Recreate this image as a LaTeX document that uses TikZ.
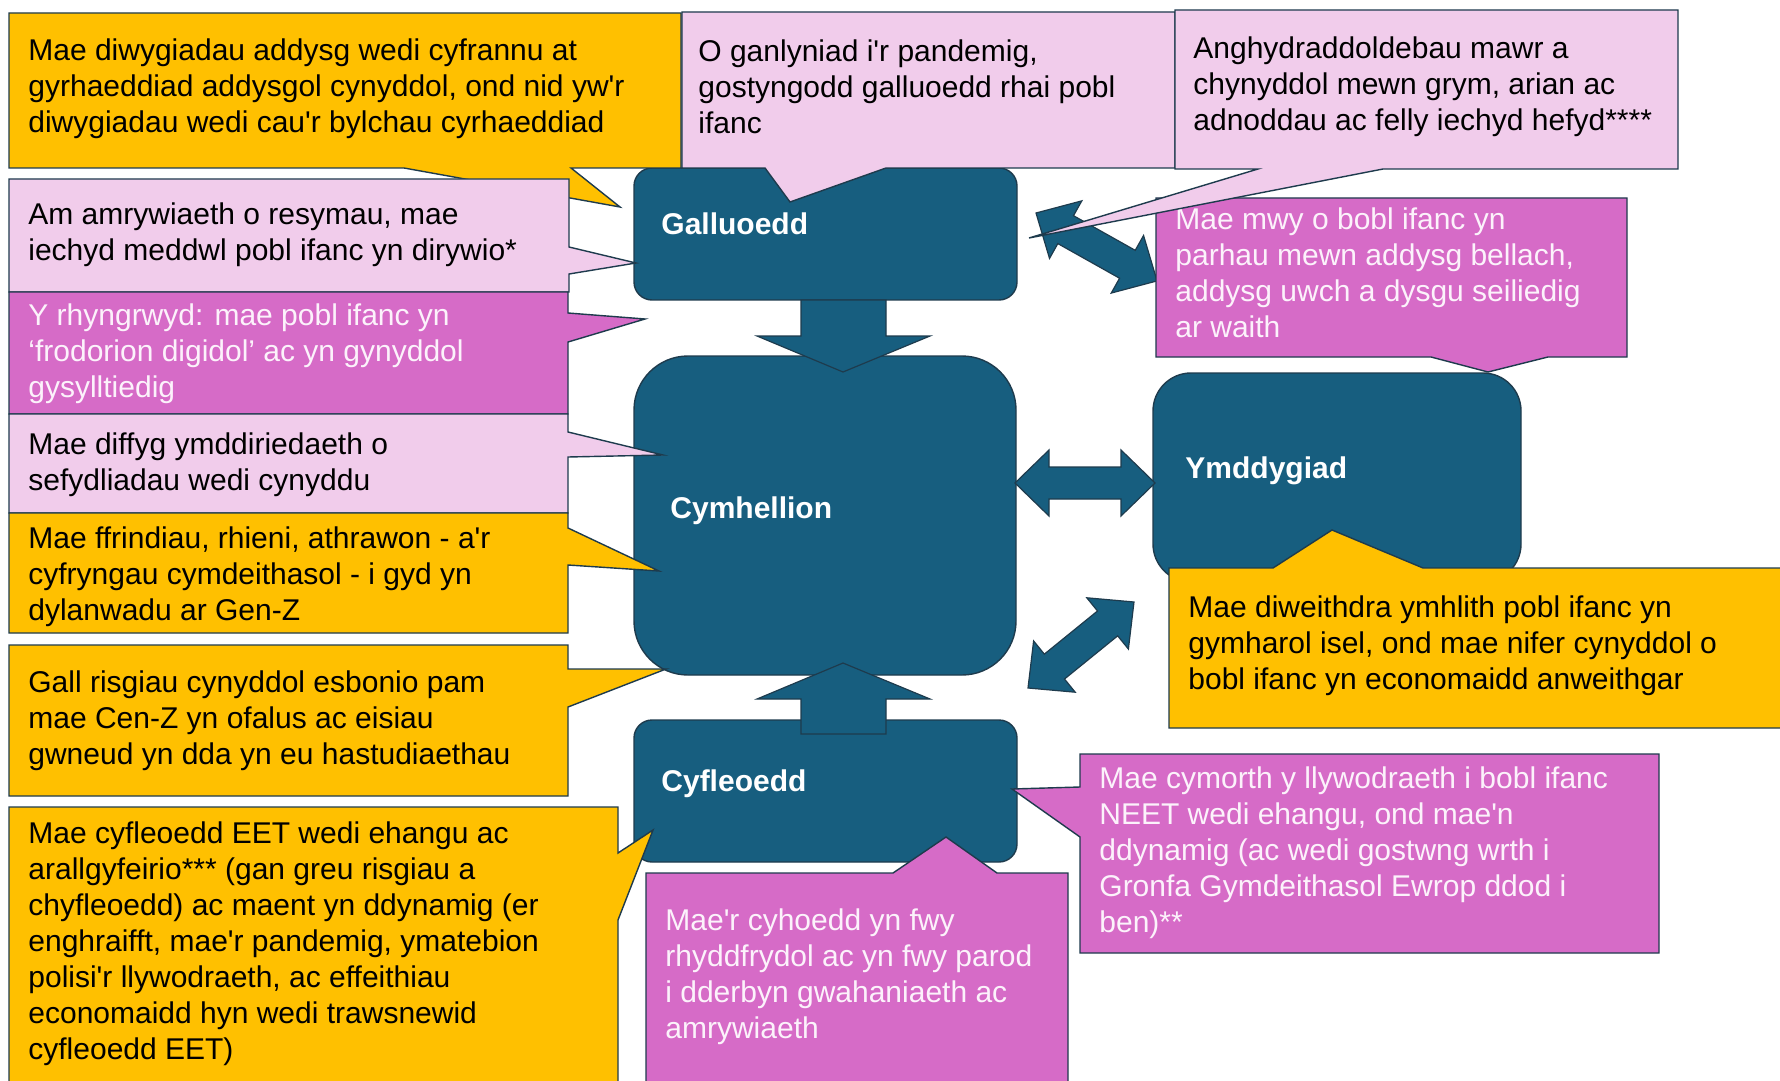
\documentclass[tikz,border=0pt]{standalone}
\usepackage{fontspec}
\setmainfont{Liberation Sans}[Ligatures=TeXOff]
\definecolor{yelC}{HTML}{FFC000}
\definecolor{lpinkC}{HTML}{F1CCEB}
\definecolor{magC}{HTML}{D66BC7}
\definecolor{darkC}{HTML}{175E7F}
\definecolor{edgeC}{HTML}{1E3B4D}
\definecolor{wtxtC}{HTML}{FCF2FB}
\tikzset{
  callY/.style={fill=yelC, draw=edgeC, line width=0.7pt, line join=miter},
  callP/.style={fill=lpinkC, draw=edgeC, line width=0.7pt, line join=miter},
  callM/.style={fill=magC, draw=edgeC, line width=0.7pt, line join=miter},
  darkbox/.style={fill=darkC, draw=edgeC, line width=0.7pt, inner sep=0pt},
  blockarr/.style={fill=darkC, draw=edgeC, line width=0.6pt, line join=miter},
  body/.style={inner sep=0pt, anchor=base west, font=\fontsize{15pt}{18pt}\selectfont, text=black},
  bodyw/.style={body, text=wtxtC},
  lbl/.style={inner sep=0pt, anchor=base west, font=\fontsize{15pt}{18pt}\selectfont\bfseries, text=white},
}
\newcommand{\txtlines}[1]{\parbox[t]{420pt}{#1}}
\newcommand{\mkdblarrow}[4]{%
  \begin{scope}[shift={(#1,#2)},rotate=#3]
    \draw[blockarr] (0,0) -- (34,33) -- (34,16) -- ({#4-34},16) -- ({#4-34},33) -- (#4,0)
      -- ({#4-34},-33) -- ({#4-34},-16) -- (34,-16) -- (34,-33) -- cycle;
  \end{scope}}
\begin{document}
\begin{tikzpicture}[x=0.5pt,y=-0.5pt]
\fill[white] (0,0) rectangle (1780,1080);
\useasboundingbox (0,0) rectangle (1780,1080);

% ---- dark boxes
\node[darkbox, minimum width=191.5pt, minimum height=66pt, rounded corners=9pt] (gall) at (825.5,234) {};
\node[darkbox, minimum width=191pt, minimum height=159.5pt, rounded corners=27pt] (cymh) at (825,515.5) {};
\node[darkbox, minimum width=191.5pt, minimum height=71pt, rounded corners=9pt] (cyfl) at (825.5,791) {};
\node[darkbox, minimum width=184pt, minimum height=104.5pt, rounded corners=19pt] (ymdd) at (1337,477.5) {};

\node[lbl] (gallL) at (661,235) {Galluoedd};
\node[lbl] (cymhL) at (670,518) {Cymhellion};
\node[lbl] (cyflL) at (661,791) {Cyfleoedd};
\node[lbl] (ymddL) at (1185,478) {Ymddygiad};

% ---- block arrows
\draw[blockarr] (801,300) -- (886,300) -- (886,336) -- (930,336) -- (843,372) -- (757,336) -- (801,336) -- cycle;
\draw[blockarr] (843,663) -- (930,699) -- (886,699) -- (886,734) -- (801,734) -- (801,699) -- (757,699) -- cycle;
\mkdblarrow{1015}{483}{0}{140}
\mkdblarrow{1036}{213}{-29.3}{138.8}
\mkdblarrow{1028}{688}{39.06}{136.5}

% ---- callouts, left column
\draw[callY] (9,13) -- (681,13) -- (681,168) -- (571,168) -- (620,207) -- (404,168) -- (9,168) -- cycle;
\node[body] (tA) at (28,61) {\txtlines{Mae diwygiadau addysg wedi cyfrannu at\\gyrhaeddiad addysgol cynyddol, ond nid yw'r\\diwygiadau wedi cau'r bylchau cyrhaeddiad}};

\draw[callP] (9,179) -- (569,179) -- (569,247) -- (636,263) -- (569,274) -- (569,292) -- (9,292) -- cycle;
\node[body] (tB) at (28,225) {\txtlines{Am amrywiaeth o resymau, mae\\iechyd meddwl pobl ifanc yn dirywio*}};

\draw[callM] (9,292) -- (568,292) -- (568,313) -- (645,319) -- (568,342) -- (568,414) -- (9,414) -- cycle;
\node[bodyw] (tC) at (28,325) {\txtlines{Y rhyngrwyd: mae pobl ifanc yn\\‘frodorion digidol’ ac yn gynyddol\\gysylltiedig}};

\draw[callP] (9,414) -- (568,414) -- (568,432) -- (663,455) -- (568,457) -- (568,513) -- (9,513) -- cycle;
\node[body] (tD) at (28,454) {\txtlines{Mae diffyg ymddiriedaeth o\\sefydliadau wedi cynyddu}};

\draw[callY] (9,513) -- (568,513) -- (568,528) -- (659,571) -- (568,565) -- (568,633) -- (9,633) -- cycle;
\node[body] (tE) at (28,548) {\txtlines{Mae ffrindiau, rhieni, athrawon - a'r\\cyfryngau cymdeithasol - i gyd yn\\dylanwadu ar Gen-Z}};

\draw[callY] (9,645) -- (568,645) -- (568,669) -- (666,669) -- (568,707) -- (568,796) -- (9,796) -- cycle;
\node[body] (tF) at (28,692) {\txtlines{Gall risgiau cynyddol esbonio pam\\mae Cen-Z yn ofalus ac eisiau\\gwneud yn dda yn eu hastudiaethau}};

\draw[callY] (9,807) -- (618,807) -- (618,853) -- (653,830) -- (618,920) -- (618,1090) -- (9,1090) -- cycle;
\node[body] (tG) at (28,843) {\txtlines{Mae cyfleoedd EET wedi ehangu ac\\arallgyfeirio*** (gan greu risgiau a\\chyfleoedd) ac maent yn ddynamig (er\\enghraifft, mae'r pandemig, ymatebion\\polisi'r llywodraeth, ac effeithiau\\economaidd hyn wedi trawsnewid\\cyfleoedd EET)}};

% ---- top callouts
\draw[callP] (682,12) -- (1175,12) -- (1175,168) -- (886,168) -- (790,202) -- (765,168) -- (682,168) -- cycle;
\node[body] (tH) at (698,62) {\txtlines{O ganlyniad i'r pandemig,\\gostyngodd galluoedd rhai pobl\\ifanc}};

\draw[callM] (1156,198) -- (1627,198) -- (1627,357) -- (1548,357) -- (1488,372) -- (1431,357) -- (1156,357) -- cycle;
\node[bodyw] (tJ) at (1175,230) {\txtlines{Mae mwy o bobl ifanc yn\\parhau mewn addysg bellach,\\addysg uwch a dysgu seiliedig\\ar waith}};

\draw[callP] (1175,10) -- (1678,10) -- (1678,169) -- (1383,169) -- (1029,238) -- (1258,169) -- (1175,169) -- cycle;
\node[body] (tI) at (1193,59) {\txtlines{Anghydraddoldebau mawr a\\chynyddol mewn grym, arian ac\\adnoddau ac felly iechyd hefyd****}};

% ---- right / bottom callouts
\draw[callY] (1169,568) -- (1273,568) -- (1332,530) -- (1423,568) -- (1790,568) -- (1790,728) -- (1169,728) -- cycle;
\node[body] (tK) at (1188,617) {\txtlines{Mae diweithdra ymhlith pobl ifanc yn\\gymharol isel, ond mae nifer cynyddol o\\bobl ifanc yn economaidd anweithgar}};

\draw[callM] (646,873) -- (893,873) -- (946,837) -- (997,873) -- (1068,873) -- (1068,1090) -- (646,1090) -- cycle;
\node[bodyw] (tL) at (665,930) {\txtlines{Mae'r cyhoedd yn fwy\\rhyddfrydol ac yn fwy parod\\i dderbyn gwahaniaeth ac\\amrywiaeth}};

\draw[callM] (1080,754) -- (1659,754) -- (1659,953) -- (1080,953) -- (1080,837) -- (1012,789) -- (1080,787) -- cycle;
\node[bodyw] (tM) at (1099,788) {\txtlines{Mae cymorth y llywodraeth i bobl ifanc\\NEET wedi ehangu, ond mae'n\\ddynamig (ac wedi gostwng wrth i\\Gronfa Gymdeithasol Ewrop ddod i\\ben)**}};
\end{tikzpicture}
\end{document}
